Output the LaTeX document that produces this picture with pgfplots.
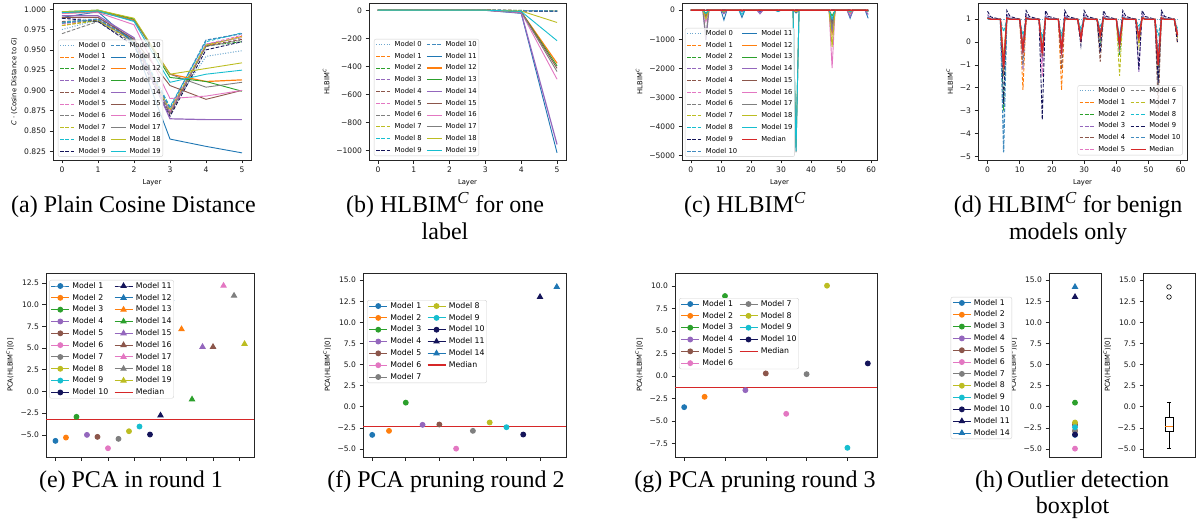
\documentclass[border=0pt]{standalone}
\usepackage{fontspec}
\setmainfont{Liberation Serif}
\newfontfamily\mpl{DejaVu Sans}
\usepackage{pgfplots}
\usepackage{pgfplotstable}
\pgfplotsset{compat=1.18}

\definecolor{c0}{HTML}{1F77B4}
\definecolor{c1}{HTML}{FF7F0E}
\definecolor{c2}{HTML}{2CA02C}
\definecolor{c3}{HTML}{D62728}
\definecolor{c4}{HTML}{9467BD}
\definecolor{c5}{HTML}{8C564B}
\definecolor{c6}{HTML}{E377C2}
\definecolor{c7}{HTML}{7F7F7F}
\definecolor{c8}{HTML}{BCBD22}
\definecolor{c9}{HTML}{17BECF}
\definecolor{nv}{HTML}{14145A}

\newcommand{\capfont}{\fontsize{24}{28}\selectfont}
\newcommand{\tickfont}{\mpl\fontsize{7.6}{9}\selectfont}
\newcommand{\labfont}{\mpl\fontsize{6.8}{8}\selectfont}
\newcommand{\hl}{HLBIM\textsuperscript{\textit{C}}}

% line styles, one per model
\tikzset{
  dsh/.style={dash pattern=on 3.6pt off 1.6pt},
  m0/.style={color=c0!65!white, line width=1pt, dash pattern=on 1pt off 1.6pt},
  m1/.style={color=c1, line width=0.9pt, dsh},
  m2/.style={color=c2, line width=0.9pt, dsh},
  m3/.style={color=c4, line width=0.9pt, dsh},
  m4/.style={color=c5, line width=0.9pt, dsh},
  m5/.style={color=c6, line width=0.9pt, dsh},
  m6/.style={color=c7, line width=0.9pt, dsh},
  m7/.style={color=c8, line width=0.9pt, dsh},
  m8/.style={color=c9, line width=0.9pt, dsh},
  m9/.style={color=nv, line width=0.9pt, dsh},
  m10/.style={color=c0!85!white, line width=1.2pt, dsh},
  m11/.style={color=c0, line width=0.9pt},
  m12/.style={color=c1, line width=1.2pt},
  m13/.style={color=c2, line width=0.9pt},
  m14/.style={color=c4, line width=1.2pt},
  m15/.style={color=c5, line width=0.9pt},
  m16/.style={color=c6, line width=0.9pt},
  m17/.style={color=c7, line width=0.9pt},
  m18/.style={color=c8, line width=0.9pt},
  m19/.style={color=c9, line width=0.9pt},
  mline/.style={draw=c3, color=c3, solid, line width=1.4pt, mark=none},
  cir/.style={line width=1pt, mark=*, mark size=2.4pt},
  tri/.style={line width=1pt, mark=triangle*, mark size=2.9pt},
  p1/.style={color=c0, cir}, p2/.style={color=c1, cir}, p3/.style={color=c2, cir},
  p4/.style={color=c4, cir}, p5/.style={color=c5, cir}, p6/.style={color=c6, cir},
  p7/.style={color=c7, cir}, p8/.style={color=c8, cir}, p9/.style={color=c9, cir},
  p10/.style={color=nv, cir},
  p11/.style={color=nv, tri}, p12/.style={color=c0, tri}, p13/.style={color=c1, tri},
  p14/.style={color=c2, tri}, p15/.style={color=c4, tri}, p16/.style={color=c5, tri},
  p17/.style={color=c6, tri}, p18/.style={color=c7, tri}, p19/.style={color=c8, tri},
  bx/.style={black, solid, line width=0.6pt, mark=none},
}

\pgfplotsset{
  mpl/.style={
    scale only axis, anchor=north west,
    axis line style={black!85, line width=0.6pt},
    tick style={black!85, line width=0.6pt},
    tick align=outside, tick pos=left,
    major tick length=3.5pt,
    /pgf/number format/assume math mode=true,
    tick label style={font=\tickfont, text=black!90},
    label style={font=\labfont},
    legend cell align=left,
  },
  toplg/.style={
    legend image code/.code={\draw[##1] (0pt,0pt) -- (15pt,0pt);},
    legend style={font=\mpl\fontsize{6.8}{8}\selectfont, draw=black!18,
      fill=white, fill opacity=0.8, text opacity=1, draw opacity=1,
      rounded corners=2pt, inner sep=1.5pt, row sep=3.9pt,
      nodes={inner sep=0.6pt},
      /tikz/every odd column/.append style={column sep=2.5pt},
      /tikz/every even column/.append style={column sep=4pt}},
  },
  botlg/.style={
    legend image code/.code={\draw[mark repeat=2, mark phase=2, ##1]
      plot coordinates {(0pt,0pt) (9pt,0pt) (18pt,0pt)};},
    legend style={font=\mpl\fontsize{7.8}{9}\selectfont, draw=black!18,
      fill=white, rounded corners=2pt, inner sep=1.5pt, row sep=3.2pt,
      nodes={inner sep=0.6pt},
      /tikz/every odd column/.append style={column sep=2pt},
      /tikz/every even column/.append style={column sep=5pt}},
  },
}

% (a) plain cosine distance per layer
\pgfplotstableread{
L m0 m1 m2 m3 m4 m5 m6 m7 m8 m9 m10 m11 m12 m13 m14 m15 m16 m17 m18 m19
0 0.975 0.980 0.983 0.989 0.985 0.982 0.970 0.980 0.984 0.989 0.983 0.990 0.995 0.997 0.992 0.990 0.995 0.996 0.997 0.996
1 0.987 0.987 0.986 0.990 0.987 0.988 0.985 0.986 0.988 0.985 0.988 0.997 0.998 0.999 0.992 0.990 0.996 0.997 0.999 0.998
2 0.960 0.960 0.962 0.963 0.961 0.962 0.958 0.960 0.963 0.955 0.962 0.958 0.987 0.988 0.965 0.963 0.981 0.986 0.989 0.985
3 0.875 0.875 0.873 0.872 0.870 0.874 0.872 0.876 0.880 0.868 0.878 0.840 0.920 0.916 0.865 0.906 0.890 0.920 0.920 0.910
4 0.942 0.955 0.955 0.957 0.955 0.957 0.954 0.956 0.960 0.950 0.962 0.831 0.911 0.911 0.864 0.889 0.893 0.904 0.927 0.920
5 0.949 0.967 0.960 0.965 0.963 0.968 0.962 0.966 0.971 0.960 0.970 0.823 0.913 0.899 0.864 0.900 0.900 0.910 0.934 0.925
}\tabA

% (b) HLBIM for one label
\pgfplotstableread{
L m0 m1 m2 m3 m4 m5 m6 m7 m8 m9 m10 m11 m12 m13 m14 m15 m16 m17 m18 m19
0 1 1 1 1 1 1 1 1 1 1 1 1 1 1 1 1 1 1 1 1
1 1 1 1 1 1 1 1 1 1 1 1 1 1 1 1 1 1 1 1 1
2 1 1 1 1 1 1 1 1 1 1 1 1 1 1 1 1 1 1 1 1
3 1 1 1 1 1 1 1 1 1 1 1 0 1 1 0 1 1 1 1 1
4 1 -2 -2 -3 -2 -2 -2 -1 -3 -4 -2 -22 -12 -12 -18 -12 -15 -12 -5 -8
5 1 -5 -4 -6 -5 -5 -4 -3 -6 -8 -5 -1017 -378 -397 -957 -414 -492 -437 -87 -217
}\tabB

% (d) benign models, HLBIM per layer (layers between listed ones stay at 1)
\pgfplotstableread{
L m0 m1 m2 m3 m4 m5 m6 m7 m8 m9 m10 med
0 1 1.05 1.05 1.2 1.05 1.05 1.05 1.05 1.0 1.35 1.1 1.05
1 1 1.0 1.0 1.02 1.0 1.0 1.0 1.0 1.0 1.1 1.0 1.0
4 1 1 1 1 1 1 1 1 0.98 1 1 1
5 1 -1.2 -3.0 -1.1 -1.5 -0.9 -1.0 -0.6 0.45 -2.7 -4.83 -1.1
6 1 1.1 1.05 1.2 1.05 1.05 1.05 1.05 1.0 1.38 1.1 1.05
7 1 1.02 1 1.05 1 1 1 1 1 1.12 1.02 1
10 1 1 1 1 1 1 1 1 0.98 1 1 1
11 1 -2.09 -0.3 -1.22 -0.5 -0.4 -1.0 -0.2 0.3 -0.35 -0.2 -0.35
12 1 1.1 1.05 1.2 1.05 1.05 1.05 1.05 1.0 1.38 1.1 1.05
13 1 1.02 1 1.05 1 1 1 1 1 1.12 1.02 1
16 1 1 1 1 1 1 1 1 0.98 1 1 1
17 1 -0.7 -0.5 -0.9 -0.6 -1.5 -0.4 -0.3 0.2 -3.4 -0.5 -0.5
18 1 1.1 1.05 1.2 1.05 1.05 1.05 1.05 1.0 1.38 1.1 1.05
19 1 1.02 1 1.05 1 1 1 1 1 1.12 1.02 1
22 1 1 1 1 1 1 1 1 0.98 1 1 1
23 1 -2.1 -0.3 -0.5 -1.2 -0.6 -0.35 -0.2 0.3 -0.4 -0.1 -0.35
24 1 1.1 1.05 1.2 1.05 1.05 1.05 1.05 1.0 1.38 1.1 1.05
25 1 1.02 1 1.05 1 1 1 1 1 1.12 1.02 1
28 1 1 1 1 1 1 1 1 0.98 1 1 1
29 1 0.1 0.15 0.0 0.2 0.1 0.15 0.3 0.6 -0.15 0.4 0.15
30 1 1.1 1.05 1.2 1.05 1.05 1.05 1.05 1.0 1.38 1.1 1.05
31 1 1.02 1 1.05 1 1 1 1 1 1.12 1.02 1
34 1 1 1 1 1 1 1 1 0.98 1 1 1
35 1 0.3 0.0 0.2 -0.86 0.35 0.3 0.4 0.7 -0.45 0.5 0.3
36 1 1.1 1.05 1.2 1.05 1.05 1.05 1.05 1.0 1.38 1.1 1.05
37 1 1.02 1 1.05 1 1 1 1 1 1.12 1.02 1
40 1 1 1 1 1 1 1 1 0.98 1 1 1
41 1 -0.1 -0.6 -0.3 -0.05 0.0 -0.2 -1.48 0.3 -0.1 0.2 -0.1
42 1 1.1 1.05 1.2 1.05 1.05 1.05 1.05 1.0 1.38 1.1 1.05
43 1 1.02 1 1.05 1 1 1 1 1 1.12 1.02 1
46 1 1 1 1 1 1 1 1 0.98 1 1 1
47 1 0.2 0.25 -1.3 0.1 0.3 0.2 -0.2 0.7 -1.2 0.4 0.2
48 1 1.1 1.05 1.2 1.05 1.05 1.05 1.05 1.0 1.38 1.1 1.05
49 1 1.02 1 1.05 1 1 1 1 1 1.12 1.02 1
52 1 1 1 1 1 1 1 1 0.98 1 1 1
53 1 -1.0 -0.8 -1.2 -2.9 -0.9 -2.1 -1.1 0.3 -1.77 -0.5 -1.0
54 1 1.1 1.05 1.2 1.05 1.05 1.05 1.05 1.0 1.38 1.1 1.05
55 1 1.02 1 1.05 1 1 1 1 1 1.12 1.02 1
58 1 1 1 1 1 1 1 1 0.98 1 1 1
59 1 -0.05 0.3 0.3 0.2 0.4 0.3 0.2 0.6 -0.03 0.4 0.3
}\tabD

% (c) the other models, same layers
\pgfplotstableread{
L m11 m12 m13 m14 m15 m16 m17 m18 m19 med
0 1 1 1 1 1 1 1 1 1 1
4 1 1 1 1 1 1 1 1 1 1
5 -200 -150 -100 -1030 -250 -400 -900 -300 -120 -4
6 1 1 1 1 1 1 1 1 1 1
10 1 1 1 1 1 1 1 1 1 1
11 -340 -40 -30 -120 -50 -60 -80 -50 -30 -0.4
12 1 1 1 1 1 1 1 1 1 1
16 1 1 1 1 1 1 1 1 1 1
17 -250 -20 -20 -60 -20 -20 -20 -20 -150 -0.5
18 1 1 1 1 1 1 1 1 1 1
22 1 1 1 1 1 1 1 1 1 1
23 -60 -10 -10 -120 -10 -10 -10 -10 -10 -0.4
24 1 1 1 1 1 1 1 1 1 1
28 1 1 1 1 1 1 1 1 1 1
29 -50 -5 -5 -5 -5 -5 -5 -5 -40 0.1
30 1 1 1 1 1 1 1 1 1 1
34 1 1 1 1 1 1 1 1 1 1
35 -100 -50 -4700 -50 -50 -50 -4880 -50 -4850 0.3
36 1 1 1 1 1 1 1 1 1 1
46 1 1 1 1 1 1 1 1 1 1
47 -400 -800 -200 -700 -500 -1990 -600 -1260 -300 0.2
48 1 1 1 1 1 1 1 1 1 1
52 1 1 1 1 1 1 1 1 1 1
53 -280 -100 -80 -220 -90 -100 -60 -70 -50 -1
54 1 1 1 1 1 1 1 1 1 1
58 1 1 1 1 1 1 1 1 1 1
59 -280 -40 -40 -150 -40 -40 -40 -40 -40 0.3
}\tabC

\begin{document}
\begin{tikzpicture}
\useasboundingbox (0pt,0pt) rectangle (1198pt,-521pt);

% ---------------- (a)
\begin{axis}[mpl, toplg, at={(53pt,-3pt)}, width=198pt, height=157pt,
  xmin=-0.25, xmax=5.25, ymin=0.8142, ymax=1.0078,
  xtick={0,...,5},
  ytick={0.825,0.85,0.875,0.9,0.925,0.95,0.975,1.0},
  yticklabels={0.825,0.850,0.875,0.900,0.925,0.950,0.975,1.000},
  xlabel={Layer}, ylabel={\textit{C} · (Cosine Distance to \textit{G})},
  legend columns=2, legend style={at={(0.025,0.02)}, anchor=south west}]
\pgfplotsinvokeforeach{0,...,19}{\addplot[m#1, forget plot] table[x=L, y=m#1] {\tabA};}
\pgfplotsinvokeforeach{0,10,1,11,2,12,3,13,4,14,5,15,6,16,7,17,8,18,9,19}{
  \addlegendimage{m#1}\addlegendentry{Model #1}}
\end{axis}

% ---------------- (b)
\begin{axis}[mpl, toplg, at={(369pt,-3pt)}, width=197pt, height=157pt,
  xmin=-0.25, xmax=5.25, ymin=-1068, ymax=52,
  xtick={0,...,5},
  ytick={-1000,-800,-600,-400,-200,0},
  yticklabels={−1000,−800,−600,−400,−200,0},
  xlabel={Layer}, ylabel={\hl},
  legend columns=2, legend style={at={(0.025,0.025)}, anchor=south west}]
\pgfplotsinvokeforeach{0,...,19}{\addplot[m#1, forget plot] table[x=L, y=m#1] {\tabB};}
\pgfplotsinvokeforeach{0,10,1,11,2,12,3,13,4,14,5,15,6,16,7,17,8,18,9,19}{
  \addlegendimage{m#1}\addlegendentry{Model #1}}
\end{axis}

% ---------------- (c)
\begin{axis}[mpl, toplg, at={(682pt,-3pt)}, width=195pt, height=157pt,
  xmin=-2.95, xmax=61.95, ymin=-5146, ymax=246,
  xtick={0,10,...,60},
  ytick={-5000,-4000,-3000,-2000,-1000,0},
  yticklabels={−5000,−4000,−3000,−2000,−1000,0},
  xlabel={Layer}, ylabel={\hl},
  legend columns=2, legend style={at={(0.015,0.02)}, anchor=south west}]
\pgfplotsinvokeforeach{0,...,10}{\addplot[m#1, forget plot] table[x=L, y=m#1] {\tabD};}
\pgfplotsinvokeforeach{11,...,19}{\addplot[m#1, forget plot] table[x=L, y=m#1] {\tabC};}
\addplot[mline, forget plot] table[x=L, y=med] {\tabC};
\pgfplotsinvokeforeach{0,11,1,12,2,13,3,14,4,15,5,16,6,17,7,18,8,19,9}{
  \addlegendimage{m#1}\addlegendentry{Model #1}}
\addlegendimage{mline}\addlegendentry{Median}
\addlegendimage{m10}\addlegendentry{Model 10}
\end{axis}

% ---------------- (d)
\begin{axis}[mpl, toplg, at={(978pt,-3pt)}, width=209pt, height=157pt,
  xmin=-2.95, xmax=61.95, ymin=-5.16, ymax=1.71,
  xtick={0,10,...,60},
  ytick={-5,-4,-3,-2,-1,0,1},
  yticklabels={−5,−4,−3,−2,−1,0,1},
  xlabel={Layer}, ylabel={\hl},
  legend columns=2, legend style={at={(0.98,0.03)}, anchor=south east}]
\pgfplotsinvokeforeach{0,...,10}{\addplot[m#1, forget plot] table[x=L, y=m#1] {\tabD};}
\addplot[mline, forget plot] table[x=L, y=med] {\tabD};
\pgfplotsinvokeforeach{0,6,1,7,2,8,3,9,4,10,5}{
  \addlegendimage{m#1}\addlegendentry{Model #1}}
\addlegendimage{mline}\addlegendentry{Median}
\end{axis}

% ---------------- (e)
\begin{axis}[mpl, botlg, at={(46pt,-273pt)}, width=208pt, height=184pt,
  xmin=-0.9, xmax=18.9, ymin=-7.55, ymax=13.65,
  xtick={0,2.5,...,17.5}, xticklabels={},
  ytick={-5,-2.5,...,12.5},
  yticklabels={−5.0,−2.5,0.0,2.5,5.0,7.5,10.0,12.5},
  ylabel={PCA(\hl)[0]},
  legend columns=2, legend style={at={(0.015,0.962)}, anchor=north west}]
\addplot[mline, forget plot] coordinates {(-0.9,-3.23) (18.9,-3.23)};
\addplot[p1, forget plot] coordinates {(0,-5.69)};
\addplot[p2, forget plot] coordinates {(1,-5.31)};
\addplot[p3, forget plot] coordinates {(2,-2.92)};
\addplot[p4, forget plot] coordinates {(3,-5.00)};
\addplot[p5, forget plot] coordinates {(4,-5.23)};
\addplot[p6, forget plot] coordinates {(5,-6.54)};
\addplot[p7, forget plot] coordinates {(6,-5.46)};
\addplot[p8, forget plot] coordinates {(7,-4.58)};
\addplot[p9, forget plot] coordinates {(8,-4.04)};
\addplot[p10, forget plot] coordinates {(9,-4.96)};
\addplot[p11, forget plot] coordinates {(10,-2.76)};
\addplot[p12, forget plot] coordinates {(11,10.65)};
\addplot[p13, forget plot] coordinates {(12,7.18)};
\addplot[p14, forget plot] coordinates {(13,-0.91)};
\addplot[p15, forget plot] coordinates {(14,5.14)};
\addplot[p16, forget plot] coordinates {(15,5.14)};
\addplot[p17, forget plot] coordinates {(16,12.19)};
\addplot[p18, forget plot] coordinates {(17,11.04)};
\addplot[p19, forget plot] coordinates {(18,5.48)};
\pgfplotsinvokeforeach{1,11,2,12,3,13,4,14,5,15,6,16,7,17,8,18,9,19,10}{
  \addlegendimage{p#1}\addlegendentry{Model #1}}
\addlegendimage{mline}\addlegendentry{Median}
\end{axis}

% ---------------- (f)
\begin{axis}[mpl, botlg, at={(363pt,-273pt)}, width=203pt, height=184pt,
  xmin=-0.55, xmax=11.55, ymin=-5.95, ymax=15.85,
  xtick={0,2,...,10}, xticklabels={},
  ytick={-5,-2.5,...,15},
  yticklabels={−5.0,−2.5,0.0,2.5,5.0,7.5,10.0,12.5,15.0},
  ylabel={PCA(\hl)[0]},
  legend columns=2, legend style={at={(0.02,0.853)}, anchor=north west}]
\addplot[mline, forget plot] coordinates {(-0.55,-2.34) (11.55,-2.34)};
\addplot[p1, forget plot] coordinates {(0,-3.33)};
\addplot[p2, forget plot] coordinates {(1,-2.85)};
\addplot[p3, forget plot] coordinates {(2,0.49)};
\addplot[p4, forget plot] coordinates {(3,-2.14)};
\addplot[p5, forget plot] coordinates {(4,-2.10)};
\addplot[p6, forget plot] coordinates {(5,-4.96)};
\addplot[p7, forget plot] coordinates {(6,-2.85)};
\addplot[p8, forget plot] coordinates {(7,-1.86)};
\addplot[p9, forget plot] coordinates {(8,-2.42)};
\addplot[p10, forget plot] coordinates {(9,-3.29)};
\addplot[p11, forget plot] coordinates {(10,13.01)};
\addplot[p12, forget plot] coordinates {(11,14.20)};
\addlegendimage{p1}\addlegendentry{Model 1}
\addlegendimage{p8}\addlegendentry{Model 8}
\addlegendimage{p2}\addlegendentry{Model 2}
\addlegendimage{p9}\addlegendentry{Model 9}
\addlegendimage{p3}\addlegendentry{Model 3}
\addlegendimage{p10}\addlegendentry{Model 10}
\addlegendimage{p4}\addlegendentry{Model 4}
\addlegendimage{p11}\addlegendentry{Model 11}
\addlegendimage{p5}\addlegendentry{Model 5}
\addlegendimage{p12}\addlegendentry{Model 14}
\addlegendimage{p6}\addlegendentry{Model 6}
\addlegendimage{mline}\addlegendentry{Median}
\addlegendimage{p7}\addlegendentry{Model 7}
\end{axis}

% ---------------- (g)
\begin{axis}[mpl, botlg, at={(675pt,-273pt)}, width=202pt, height=184pt,
  xmin=-0.45, xmax=9.45, ymin=-9.0, ymax=11.45,
  xtick={0,2,...,8}, xticklabels={},
  ytick={-7.5,-5,...,10},
  yticklabels={−7.5,−5.0,−2.5,0.0,2.5,5.0,7.5,10.0},
  ylabel={PCA(\hl)[0]},
  legend columns=2, legend style={at={(0.02,0.864)}, anchor=north west}]
\addplot[mline, forget plot] coordinates {(-0.45,-1.27) (9.45,-1.27)};
\addplot[p1, forget plot] coordinates {(0,-3.46)};
\addplot[p2, forget plot] coordinates {(1,-2.31)};
\addplot[p3, forget plot] coordinates {(2,8.89)};
\addplot[p4, forget plot] coordinates {(3,-1.57)};
\addplot[p5, forget plot] coordinates {(4,0.29)};
\addplot[p6, forget plot] coordinates {(5,-4.20)};
\addplot[p7, forget plot] coordinates {(6,0.21)};
\addplot[p8, forget plot] coordinates {(7,10.04)};
\addplot[p9, forget plot] coordinates {(8,-7.98)};
\addplot[p10, forget plot] coordinates {(9,1.40)};
\pgfplotsinvokeforeach{1,7,2,8,3,9,4,10}{
  \addlegendimage{p#1}\addlegendentry{Model #1}}
\addlegendimage{p5}\addlegendentry{Model 5}
\addlegendimage{mline}\addlegendentry{Median}
\addlegendimage{p6}\addlegendentry{Model 6}
\end{axis}

% ---------------- (h) scatter of the remaining models
\begin{axis}[mpl, botlg, at={(1049pt,-273pt)}, width=52pt, height=184pt,
  xmin=-1, xmax=1, ymin=-5.95, ymax=15.85, xtick=\empty,
  ytick={-5,-2.5,...,15},
  yticklabels={−5.0,−2.5,0.0,2.5,5.0,7.5,10.0,12.5,15.0},
  ylabel={PCA(\hl)[0]},
  legend style={at={(-0.71,0.87)}, anchor=north east}]
\addplot[p1, forget plot] coordinates {(0,-3.33)};
\addplot[p2, forget plot] coordinates {(0,-2.85)};
\addplot[p3, forget plot] coordinates {(0,0.49)};
\addplot[p4, forget plot] coordinates {(0,-2.14)};
\addplot[p5, forget plot] coordinates {(0,-2.10)};
\addplot[p6, forget plot] coordinates {(0,-4.96)};
\addplot[p7, forget plot] coordinates {(0,-2.85)};
\addplot[p8, forget plot] coordinates {(0,-1.86)};
\addplot[p9, forget plot] coordinates {(0,-2.42)};
\addplot[p10, forget plot] coordinates {(0,-3.29)};
\addplot[p11, forget plot] coordinates {(0,13.01)};
\addplot[p12, forget plot] coordinates {(0,14.20)};
\pgfplotsinvokeforeach{1,...,11}{\addlegendimage{p#1}\addlegendentry{Model #1}}
\addlegendimage{p12}\addlegendentry{Model 14}
\end{axis}

% ---------------- (h) boxplot of the same twelve values
\begin{axis}[mpl, at={(1143pt,-273pt)}, width=52pt, height=184pt,
  xmin=0.5, xmax=1.5, ymin=-5.95, ymax=15.85, xtick=\empty,
  ytick={-5,-2.5,...,15},
  yticklabels={−5.0,−2.5,0.0,2.5,5.0,7.5,10.0,12.5,15.0},
  ylabel={PCA(\hl)[0]}]
% box: quartiles -2.96 and -1.27
\addplot[bx] coordinates {(0.925,-2.96) (1.075,-2.96) (1.075,-1.27) (0.925,-1.27) (0.925,-2.96)};
% whiskers to 0.49 and -4.96
\addplot[bx] coordinates {(1,-1.27) (1,0.49)};
\addplot[bx] coordinates {(1,-2.96) (1,-4.96)};
\addplot[bx] coordinates {(0.9625,0.49) (1.0375,0.49)};
\addplot[bx] coordinates {(0.9625,-4.96) (1.0375,-4.96)};
% median
\addplot[draw=c1, line width=0.8pt] coordinates {(0.925,-2.28) (1.075,-2.28)};
% outliers
\addplot[only marks, mark=o, mark size=2.3pt, black, line width=0.6pt] coordinates {(1,13.01) (1,14.20)};
\end{axis}

% ---------------- captions
\begin{scope}[every node/.style={font=\capfont, inner sep=0pt}]
\node[anchor=base] at (133.5pt,-213pt) {(a) Plain Cosine Distance};
\node[anchor=base] at (445pt,-213pt) {(b) \hl\ for one};
\node[anchor=base] at (445pt,-240pt) {label};
\node[anchor=base] at (745pt,-213pt) {(c) \hl};
\node[anchor=base] at (1068pt,-213pt) {(d) \hl\ for benign};
\node[anchor=base] at (1068pt,-240pt) {models only};
\node[anchor=base] at (131pt,-487pt) {(e) PCA in round 1};
\node[anchor=base] at (446pt,-487pt) {(f) PCA pruning round 2};
\node[anchor=base] at (755pt,-487pt) {(g) PCA pruning round 3};
\node[anchor=base west] at (975pt,-487pt) {(h)\hspace{4pt}Outlier detection};
\node[anchor=base] at (1072.5pt,-513pt) {boxplot};
\end{scope}
\end{tikzpicture}
\end{document}
